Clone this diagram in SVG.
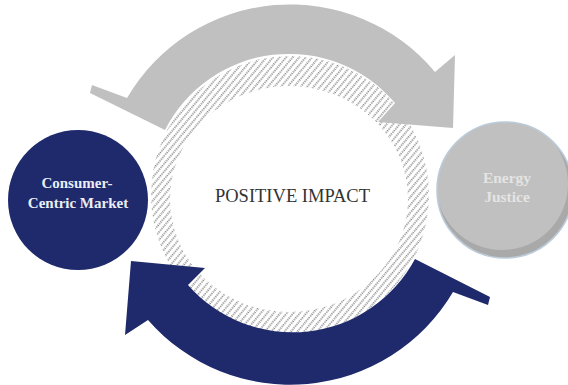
<svg xmlns="http://www.w3.org/2000/svg" width="568" height="385" viewBox="0 0 568 385">
  <style>
    .node-label { font-family: "Liberation Serif", "Times New Roman", serif; font-weight: bold; text-anchor: middle; }
    .center-label { font-family: "Liberation Serif", "Times New Roman", serif; font-size: 18.5px; fill: #333333; text-anchor: middle; }
    .arrow-gray { fill: #c0c0c0; }
    .arrow-navy { fill: #1f2a6c; }
  </style>
  <defs>
    <!-- dotted diagonal hatching for the central ring -->
    <pattern id="hatch" width="5" height="4.4" patternUnits="userSpaceOnUse" patternTransform="rotate(40)">
      <line x1="1" y1="0" x2="1" y2="4.4" stroke="#555555" stroke-width="1.3" stroke-dasharray="1.2 1"/>
    </pattern>
    <clipPath id="justice-clip">
      <circle cx="505" cy="190" r="68"/>
    </clipPath>
  </defs>

  <rect width="568" height="385" fill="#ffffff"/>

  <!-- central ring -->
  <g id="positive-impact">
    <path d="M151,195 A139,139 0 1,1 429,195 A139,139 0 1,1 151,195 Z M170,199 A119,113 0 1,0 408,199 A119,113 0 1,0 170,199 Z" fill="url(#hatch)" fill-rule="evenodd"/>
    <text class="center-label" x="292.5" y="202">POSITIVE IMPACT</text>
  </g>

  <!-- circular arrows -->
  <g id="connectors">
    <path class="arrow-gray" d="M90,93 L92,85 L127,98 A189,189 0 0,1 435,72 L455,55 L453,128 L378,122 L395,103 A139,139 0 0,0 165,130 Z"/>
    <path class="arrow-navy" d="M490,297 L488,305 L453,292 A189,189 0 0,1 148,320 L125,335 L131,261 L205,268 L188,285 A139,139 0 0,0 415,259 Z"/>
  </g>

  <g id="consumer-centric-market">
    <circle cx="78" cy="200" r="70" fill="#1f2a6c"/>
    <text class="node-label" x="77" y="188" font-size="15" fill="#eceef4">Consumer-</text>
    <text class="node-label" x="78" y="208" font-size="15" fill="#eceef4">Centric Market</text>
  </g>

  <g id="energy-justice">
    <circle cx="505" cy="190" r="68" fill="#a9a9a9"/>
    <circle cx="502" cy="184" r="66" fill="#c0c0c0" clip-path="url(#justice-clip)"/>
    <circle cx="505" cy="190" r="68" fill="none" stroke="#bccbd9" stroke-width="1.6"/>
    <text class="node-label" x="507" y="183" font-size="15.5" fill="#e4e4e4">Energy</text>
    <text class="node-label" x="507" y="202" font-size="15.5" fill="#e4e4e4">Justice</text>
  </g>
</svg>
